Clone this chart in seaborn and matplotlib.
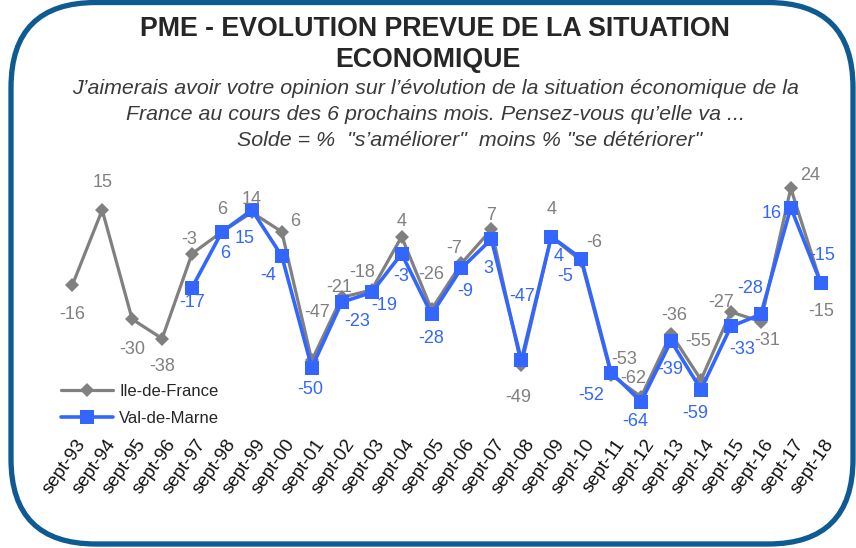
import numpy as np
import matplotlib
matplotlib.use("Agg")
import matplotlib.pyplot as plt
from matplotlib import font_manager
from matplotlib.patches import FancyBboxPatch
from matplotlib.transforms import ScaledTranslation
import seaborn as sns

# --- data -------------------------------------------------------------
years = ["sept-93", "sept-94", "sept-95", "sept-96", "sept-97", "sept-98",
         "sept-99", "sept-00", "sept-01", "sept-02", "sept-03", "sept-04",
         "sept-05", "sept-06", "sept-07", "sept-08", "sept-09", "sept-10",
         "sept-11", "sept-12", "sept-13", "sept-14", "sept-15", "sept-16",
         "sept-17", "sept-18"]
idf = [-16, 15, -30, -38, -3, 6, 14, 6, -47, -21, -18, 4, -26, -7, 7, -49,
       4, -6, -53, -62, -36, -55, -27, -31, 24, -15]
# Val-de-Marne series starts in sept-97
vdm_years = years[4:]
vdm = [-17, 6, 15, -4, -50, -23, -19, -3, -28, -9, 3, -47, 4, -5, -52, -64,
       -39, -59, -33, -28, 16, -15]

# label offsets in pixels (dx, dy downward)
idf_off = [(0, 29), (0, -27), (0, 30), (0, 28), (-3, -14), (0, -22), (0, -13),
           (13, -10), (5, -48), (-3, -10), (-9, -18), (0, -15), (0, -35),
           (-7, -15), (0, -14), (-3, 32), (0, -27), (13, -18), (13, -15),
           (-8, -18), (3, -18), (-3, -38), (-10, -9), (6, 19), (19, -13),
           (0, 29)]
vdm_off = [(0, 15), (3, 22), (-7, 29), (-14, 19), (-2, 22), (15, 19), (13, 13),
           (0, 23), (0, 24), (4, 23), (-3, 29), (1, -64), (7, 20), (-16, 18),
           (-20, 23), (-6, 20), (-1, 28), (-6, 24), (11, 23), (-11, -26),
           (-19, 6), (1, -27)]

GRAY = "#808080"
BLUE = "#3366FF"

sns.set_theme(style="white")
plt.rcParams["font.family"] = ["Liberation Sans", "DejaVu Sans"]
installed = {f.name for f in font_manager.fontManager.ttflist}
narrow = "Liberation Sans Narrow" if "Liberation Sans Narrow" in installed else "Liberation Sans"

fig = plt.figure(figsize=(8.56, 5.48), dpi=100)
fig.patch.set_facecolor("white")
ax = fig.add_axes([0.06694, 0.2117, 0.90935, 0.4963])
ax.set_facecolor("none")

pos = np.arange(len(years))
vpos = np.arange(4, len(years))

sns.lineplot(x=pos, y=idf, ax=ax, color=GRAY, linewidth=2.3, marker="D",
             markersize=7, markeredgewidth=0, label="Ile-de-France")
sns.lineplot(x=vpos, y=vdm, ax=ax, color=BLUE, linewidth=2.6, marker="s",
             markersize=10, markeredgewidth=0, label="Val-de-Marne")

for i, v, (dx, dy) in zip(pos, idf, idf_off):
    ax.annotate(str(v), (i, v), xytext=(dx, -dy), textcoords="offset pixels",
                ha="center", va="center", color=GRAY, fontsize=13)
for i, v, (dx, dy) in zip(vpos, vdm, vdm_off):
    ax.annotate(str(v), (i, v), xytext=(dx, -dy), textcoords="offset pixels",
                ha="center", va="center", color=BLUE, fontsize=13)

ax.set_xlim(-0.5, len(years) - 0.5)
ax.set_ylim(-76.5, 35.6)
ax.set_yticks([])
ax.set_xticks(pos)
ax.set_xticklabels(years, rotation=55, ha="right", va="top",
                   rotation_mode="anchor", fontsize=13.5, color="#111111")
ax.tick_params(axis="x", length=0, pad=3)
shift = ScaledTranslation(3 / 100, 0, fig.dpi_scale_trans)
for lbl in ax.get_xticklabels():
    lbl.set_transform(lbl.get_transform() + shift)
ax.set_xlabel("")
ax.set_ylabel("")
for s in ax.spines.values():
    s.set_visible(False)

ax.legend(loc="center left", bbox_to_anchor=(61 / 856, 1 - 405 / 548),
          bbox_transform=fig.transFigure, frameon=False, fontsize=12,
          handlelength=3.1, handletextpad=0.4, labelspacing=0.7,
          borderpad=0, borderaxespad=0)

# titles
fig.text(435 / 856, 1 - 29 / 548, "PME - EVOLUTION PREVUE DE LA SITUATION",
         ha="center", va="center", fontsize=19.3, fontweight="bold",
         family=[narrow, "DejaVu Sans"], color="#262626")
fig.text(428 / 856, 1 - 60 / 548, "ECONOMIQUE", ha="center", va="center",
         fontsize=19.3, fontweight="bold", family=[narrow, "DejaVu Sans"],
         color="#262626")
sub = ["J\u2019aimerais avoir votre opinion sur l\u2019\u00e9volution de la situation \u00e9conomique de la",
       "France au cours des 6 prochains mois. Pensez-vous qu\u2019elle va ...",
       "Solde = %  \"s\u2019am\u00e9liorer\"  moins % \"se d\u00e9t\u00e9riorer\""]
for txt, xc, yc in zip(sub, [435, 436, 470], [89, 114, 140]):
    fig.text(xc / 856, 1 - yc / 548, txt, ha="center", va="center",
             fontsize=15.4, style="italic", family=[narrow, "DejaVu Sans"],
             color="#3a3a3a")

# rounded frame around the chart
frame = FancyBboxPatch((0.11, 0.04), 8.42, 5.415,
                       boxstyle="round,pad=0,rounding_size=0.85",
                       transform=fig.dpi_scale_trans, fill=False,
                       edgecolor="#0E5A92", linewidth=3.8)
fig.add_artist(frame)

fig.savefig("out.png", dpi=100)
